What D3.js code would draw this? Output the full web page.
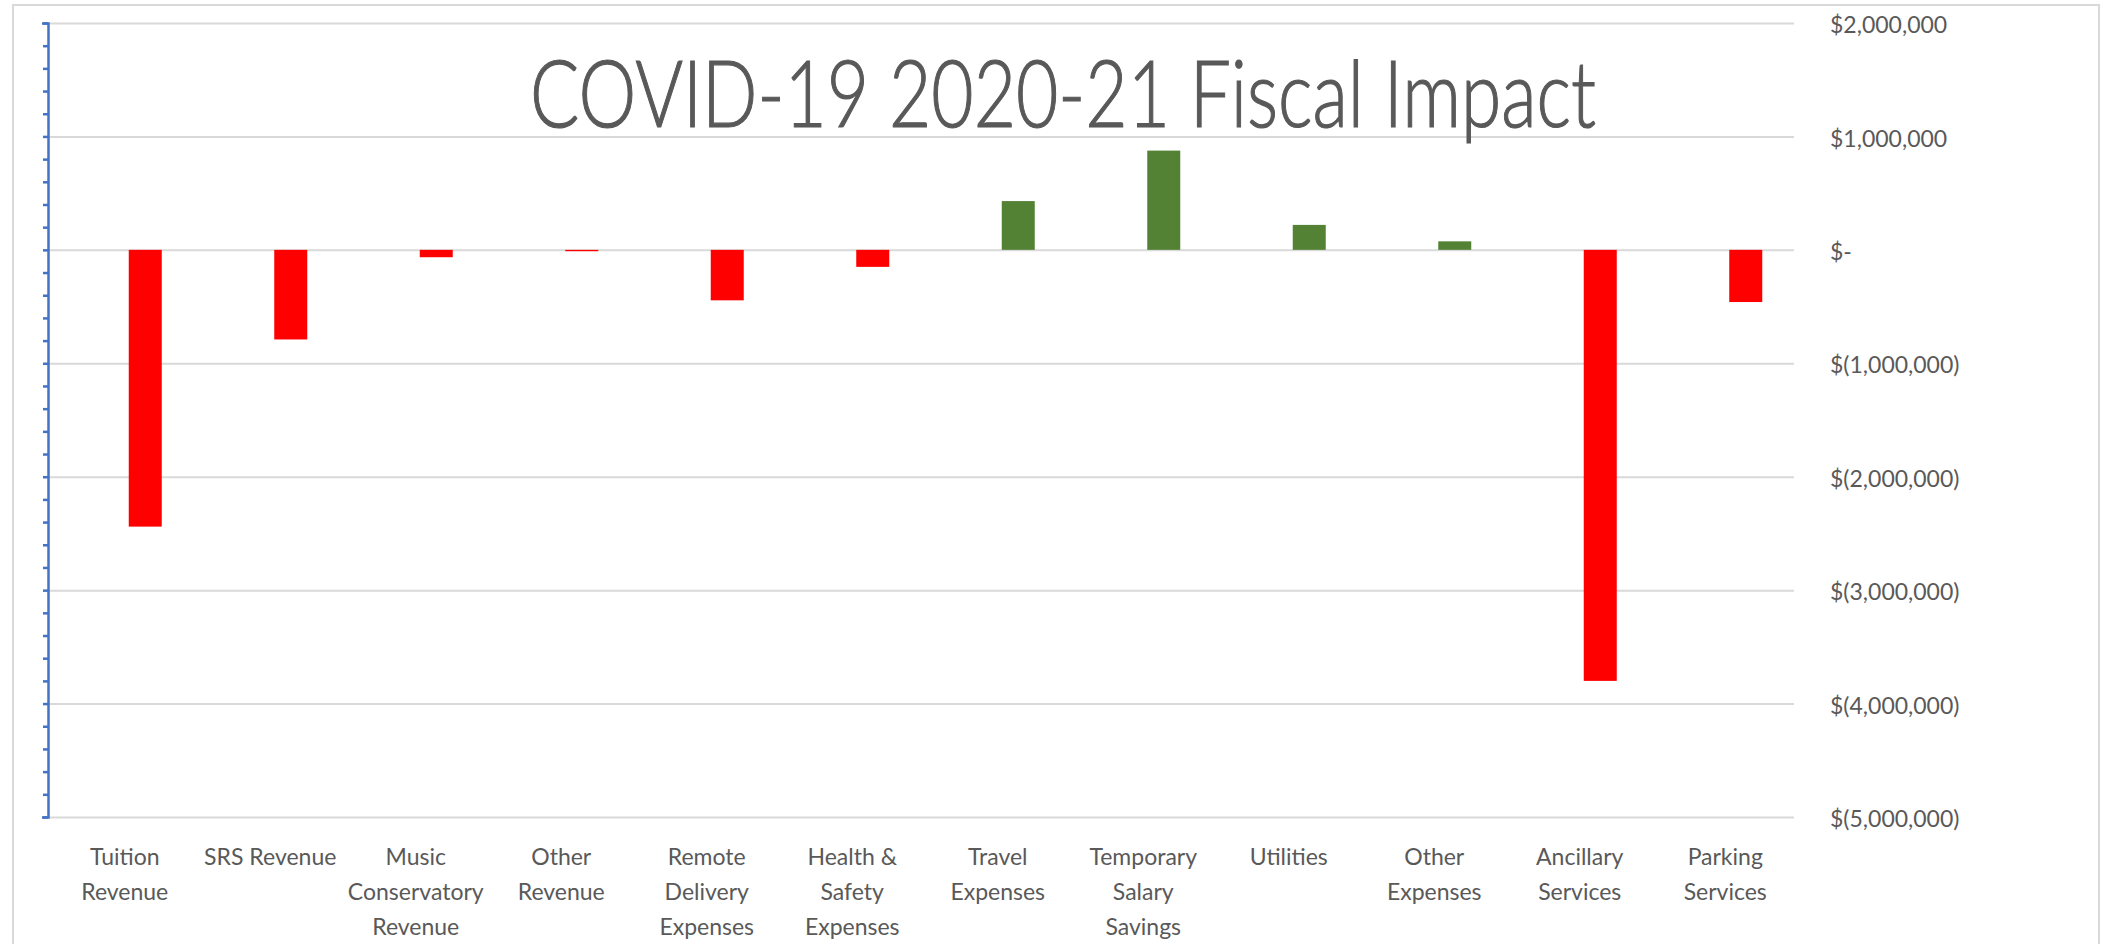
<!DOCTYPE html>
<html lang="en">
<head>
<meta charset="UTF-8">
<title>COVID-19 2020-21 Fiscal Impact</title>
<script src="https://d3js.org/d3.v7.min.js"></script>
<style>
    body { margin: 0; background: #fff; }
    text { font-family: Lato, "Open Sans", sans-serif; fill: #595959; }
    .grid line { stroke: #d9d9d9; stroke-width: 2px; }
    .grid path { display: none; }
    .frame { fill: none; stroke: #d9d9d9; stroke-width: 2px; }
    .yaxis path, .yaxis line { stroke: #4472c4; stroke-width: 2.5px; }
</style>
</head>
<body>
<svg width="2103" height="944"></svg>
<script>
    const title = "COVID-19 2020-21 Fiscal Impact";
    const categories = ["Tuition\nRevenue", "SRS Revenue", "Music\nConservatory\nRevenue", "Other\nRevenue",
        "Remote\nDelivery\nExpenses", "Health &\nSafety\nExpenses", "Travel\nExpenses", "Temporary\nSalary\nSavings",
        "Utilities", "Other\nExpenses", "Ancillary\nServices", "Parking\nServices"];
    const impact = [-2440000, -790000, -65000, -12000, -445000, -150000, 430000, 875000, 220000, 75000, -3800000, -460000];
    const yTicks = [2000000, 1000000, 0, -1000000, -2000000, -3000000, -4000000, -5000000];

    const svg = d3.select("svg");
    const plotLeft = 48, plotRight = 1794, plotTop = 23, plotBottom = 817;

    const x = d3.scaleBand().domain(categories).range([plotLeft, plotRight]);
    const y = d3.scaleLinear().domain([-5000000, 2000000]).range([plotBottom, plotTop]);

    const money = d3.format(",");
    const fmt = d => d === 0 ? "$-" : d < 0 ? "$(" + money(-d) + ")" : "$" + money(d);

    // outer chart frame
    svg.append("rect").attr("class", "frame")
        .attr("x", 13).attr("y", 5).attr("width", 2086).attr("height", 960);

    // gridlines
    svg.append("g").attr("class", "grid")
        .attr("transform", `translate(${plotLeft},0)`)
        .call(d3.axisLeft(y).tickValues(yTicks).tickSize(-(plotRight - plotLeft)).tickFormat(""));

    // value labels on the right
    const labels = svg.append("g")
        .attr("transform", `translate(${plotRight},0)`)
        .call(d3.axisRight(y).tickValues(yTicks).tickSize(0).tickPadding(36).tickFormat(fmt));
    labels.select(".domain").remove();
    labels.selectAll("text").attr("font-size", 23).attr("dy", "0.42em");

    // blue axis line with minor ticks
    svg.append("g").attr("class", "yaxis")
        .attr("transform", `translate(${plotLeft},0)`)
        .call(d3.axisLeft(y).ticks(35).tickSize(5).tickSizeOuter(6).tickFormat(""));

    // bars
    const barOffset = 8, barWidth = 33;
    svg.append("g").selectAll("rect")
        .data(categories.map((c, i) => ({c, v: impact[i]})))
        .join("rect")
        .attr("x", d => x(d.c) + x.bandwidth() / 2 + barOffset)
        .attr("width", barWidth)
        .attr("y", d => y(Math.max(0, d.v)))
        .attr("height", d => Math.max(1, Math.abs(y(d.v) - y(0))))
        .attr("fill", d => d.v < 0 ? "#ff0000" : "#548235");

    // category labels
    const cat = svg.append("g").selectAll("text")
        .data(categories)
        .join("text")
        .attr("text-anchor", "middle")
        .attr("font-size", 23)
        .attr("x", d => x(d) + x.bandwidth() / 2 + 4)
        .attr("y", 865);
    cat.selectAll("tspan")
        .data(d => d.split("\n").map(s => ({s, x: x(d) + x.bandwidth() / 2 + 4})))
        .join("tspan")
        .attr("x", d => d.x)
        .attr("dy", (d, i) => i === 0 ? 0 : 35)
        .text(d => d.s);

    // title, squeezed horizontally to the width it has in the original
    const titleWidth = 1066;
    const t = svg.append("text")
        .attr("text-anchor", "middle")
        .attr("font-size", 92)
        .attr("font-weight", 300)
        .style("stroke", "#595959")
        .style("stroke-width", 1.2)
        .text(title);
    const sx = titleWidth / t.node().getComputedTextLength();
    t.attr("transform", `translate(1063,127) scale(${sx},1)`);
</script>
</body>
</html>
